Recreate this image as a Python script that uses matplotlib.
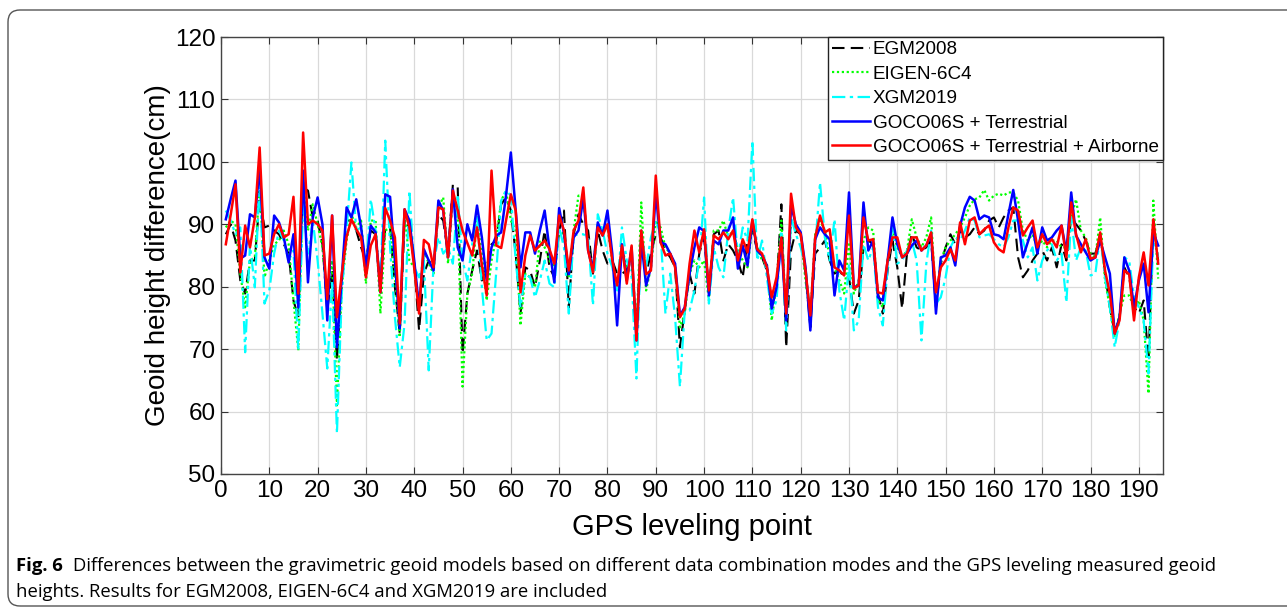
import matplotlib
matplotlib.use("Agg")
import matplotlib.pyplot as plt
from matplotlib.patches import FancyBboxPatch
import numpy as np

# geoid height differences (cm) at the GPS leveling points 1..194
egm2008 = [
    88.4, 90.0, 87.4, 81.0, 78.9, 84.2, 84.2, 94.3, 89.5, 89.8,
    89.0, 88.4, 86.8, 85.3, 77.8, 75.1, 95.9, 95.4, 91.1, 90.6,
    86.8, 76.2, 82.6, 68.2, 81.0, 90.6, 90.6, 89.0, 86.3, 84.2,
    89.0, 88.4, 79.9, 89.5, 89.5, 79.9, 72.5, 90.6, 89.5, 83.7,
    73.0, 82.1, 84.2, 83.1, 91.6, 90.6, 85.3, 96.4, 95.9, 69.3,
    78.9, 82.6, 85.8, 81.0, 83.1, 86.8, 87.4, 93.2, 94.3, 92.2,
    85.3, 75.7, 83.1, 82.6, 79.9, 84.2, 89.0, 83.1, 81.5, 89.0,
    92.2, 76.7, 88.4, 91.6, 90.0, 89.0, 82.1, 89.0, 85.8, 83.7,
    84.2, 82.1, 82.1, 82.6, 85.8, 72.5, 89.0, 82.1, 85.3, 88.4,
    87.9, 85.8, 84.7, 83.1, 70.3, 76.2, 82.1, 78.9, 85.3, 87.9,
    79.4, 88.4, 89.0, 84.2, 86.8, 85.8, 84.2, 81.5, 87.4, 89.0,
    85.8, 84.7, 82.6, 76.7, 79.9, 93.2, 70.3, 85.8, 89.0, 88.4,
    82.1, 73.5, 85.3, 86.3, 87.4, 84.2, 82.1, 82.6, 81.5, 81.5,
    75.7, 77.8, 86.3, 87.4, 86.8, 78.9, 75.7, 82.6, 87.4, 83.1,
    76.5, 85.3, 88.4, 86.3, 85.8, 86.3, 87.4, 76.7, 83.7, 86.3,
    88.4, 86.8, 89.0, 87.9, 88.4, 89.5, 88.4, 89.0, 90.6, 91.1,
    89.5, 91.1, 92.2, 92.7, 84.7, 81.5, 82.6, 84.2, 85.3, 85.8,
    84.2, 86.3, 83.1, 86.8, 84.2, 91.1, 90.0, 89.0, 87.4, 85.3,
    85.3, 88.4, 82.1, 76.7, 72.5, 75.1, 83.1, 81.5, 76.7, 75.7,
    77.8, 68.2, 90.6, 84.2]

eigen6c4 = [
    89.5, 90.6, 90.0, 82.1, 76.7, 84.2, 84.7, 95.9, 81.5, 84.2,
    86.8, 87.4, 89.0, 86.8, 77.8, 69.8, 97.0, 89.0, 93.2, 90.0,
    86.3, 77.8, 84.2, 61.0, 79.9, 87.4, 91.6, 89.5, 90.6, 80.5,
    90.6, 90.6, 75.7, 89.0, 89.5, 81.5, 71.9, 91.6, 84.2, 83.1,
    76.7, 85.8, 83.7, 82.1, 92.7, 94.3, 83.7, 94.8, 91.6, 64.0,
    78.9, 82.1, 90.6, 85.3, 77.8, 84.2, 87.9, 93.8, 95.4, 90.6,
    89.0, 73.8, 82.1, 81.5, 79.9, 87.4, 86.3, 84.2, 83.1, 89.0,
    88.4, 81.5, 89.0, 94.6, 94.3, 86.3, 83.1, 89.5, 89.0, 89.5,
    84.2, 79.4, 86.3, 83.1, 84.2, 72.5, 93.5, 79.4, 83.1, 90.6,
    89.5, 86.3, 85.3, 83.1, 73.5, 75.7, 82.1, 84.2, 83.1, 84.2,
    77.8, 89.0, 89.0, 90.6, 87.9, 89.0, 85.8, 84.2, 83.1, 90.0,
    86.3, 84.2, 83.7, 74.6, 80.5, 90.6, 75.1, 90.6, 89.5, 88.4,
    81.0, 75.1, 88.4, 90.6, 89.0, 84.7, 83.1, 81.0, 78.9, 86.8,
    78.9, 81.0, 87.4, 89.5, 89.0, 77.8, 76.7, 84.2, 89.0, 86.3,
    84.7, 85.8, 90.8, 87.9, 86.3, 87.9, 91.1, 77.3, 84.2, 86.3,
    87.4, 88.4, 89.5, 91.1, 93.0, 94.0, 94.3, 95.5, 93.8, 94.6,
    94.9, 94.6, 95.1, 95.1, 93.8, 89.0, 87.4, 88.4, 86.3, 87.4,
    86.3, 87.4, 87.4, 86.3, 86.3, 91.1, 94.0, 89.0, 87.9, 85.3,
    84.7, 91.1, 81.0, 76.7, 71.9, 75.7, 78.6, 78.6, 76.7, 77.8,
    74.6, 62.9, 93.8, 81.3]

xgm2019 = [
    92.2, 90.6, 88.4, 89.5, 69.5, 86.8, 79.9, 97.0, 77.3, 79.4,
    85.3, 89.0, 87.4, 84.2, 85.8, 69.8, 93.2, 85.3, 90.6, 84.2,
    75.7, 66.9, 81.0, 56.5, 78.9, 89.0, 99.9, 89.0, 89.5, 82.6,
    94.0, 89.0, 79.9, 103.4, 86.3, 75.1, 67.1, 74.1, 95.4, 83.1,
    81.5, 84.2, 66.6, 83.7, 87.9, 85.3, 86.3, 83.7, 94.8, 84.2,
    81.0, 86.8, 91.6, 79.9, 71.4, 72.5, 82.6, 93.8, 95.4, 94.6,
    84.2, 76.7, 82.1, 81.5, 78.3, 81.0, 84.2, 80.5, 79.9, 89.5,
    86.3, 75.7, 88.2, 88.4, 88.4, 87.9, 77.0, 91.6, 89.0, 85.3,
    83.1, 79.4, 89.5, 84.2, 81.5, 65.3, 89.0, 83.1, 87.9, 90.6,
    88.4, 75.7, 82.1, 75.1, 64.0, 76.2, 76.2, 79.4, 84.2, 94.3,
    77.3, 86.3, 83.1, 81.5, 89.0, 94.3, 84.7, 89.5, 87.4, 103.4,
    84.2, 87.4, 81.5, 75.7, 77.8, 89.0, 73.0, 91.1, 88.4, 86.3,
    83.1, 75.7, 86.3, 96.7, 87.9, 84.2, 90.8, 79.4, 74.6, 83.7,
    73.0, 74.6, 86.8, 84.2, 86.3, 76.7, 73.8, 83.1, 90.0, 83.7,
    84.2, 85.8, 87.4, 84.2, 71.4, 83.7, 89.0, 77.3, 78.3, 81.5,
    86.3, 87.9, 87.4, 89.0, 91.1, 90.6, 87.9, 88.2, 88.4, 87.6,
    86.8, 86.3, 87.9, 90.6, 90.6, 87.4, 84.7, 86.3, 81.0, 84.2,
    85.8, 86.8, 84.2, 85.3, 77.5, 91.1, 84.2, 86.3, 85.8, 81.8,
    82.1, 88.2, 81.5, 76.7, 70.3, 74.6, 84.7, 84.2, 78.3, 76.7,
    74.6, 66.1, 87.9, 84.7]

goco_terr = [
    90.8, 94.0, 97.0, 84.5, 85.0, 91.6, 91.1, 99.1, 84.7, 82.9,
    91.4, 90.3, 87.9, 83.9, 88.4, 76.7, 98.6, 80.7, 91.1, 94.3,
    90.0, 74.6, 91.4, 70.3, 81.5, 92.7, 91.1, 94.0, 89.5, 83.1,
    89.8, 88.7, 79.1, 94.8, 94.4, 84.2, 73.3, 92.4, 90.6, 84.2,
    76.7, 86.0, 84.2, 82.6, 93.8, 92.2, 84.7, 95.6, 86.3, 84.2,
    90.0, 87.4, 93.0, 87.9, 81.0, 86.3, 88.2, 88.7, 94.6, 101.5,
    92.2, 83.1, 88.7, 88.7, 85.3, 89.0, 92.2, 86.0, 80.7, 92.6,
    88.5, 82.0, 87.9, 89.0, 94.3, 85.8, 82.9, 90.3, 88.2, 92.2,
    85.3, 73.8, 86.8, 81.0, 86.3, 71.4, 87.4, 80.2, 83.1, 95.1,
    87.1, 86.8, 85.3, 83.7, 75.4, 76.7, 82.1, 86.3, 89.5, 88.9,
    78.6, 87.4, 86.8, 89.0, 89.0, 91.1, 82.9, 86.6, 83.4, 90.6,
    85.8, 85.0, 83.4, 76.5, 79.9, 87.4, 74.6, 93.0, 90.0, 88.7,
    83.1, 73.0, 87.6, 89.5, 88.4, 87.6, 78.6, 84.2, 82.6, 95.1,
    79.9, 80.2, 93.5, 85.8, 87.4, 78.3, 77.8, 84.2, 91.1, 86.8,
    84.7, 85.3, 86.6, 87.4, 85.8, 86.6, 88.4, 75.7, 84.7, 85.0,
    86.3, 83.4, 89.8, 92.7, 94.4, 93.8, 90.8, 91.4, 91.1, 88.4,
    88.2, 87.6, 91.6, 95.5, 90.6, 84.7, 87.1, 89.5, 85.3, 89.5,
    87.4, 87.9, 89.0, 89.8, 85.5, 95.1, 88.2, 86.8, 85.5, 84.2,
    84.7, 87.4, 84.7, 82.1, 72.5, 75.1, 84.7, 82.6, 76.7, 81.0,
    83.7, 75.9, 88.7, 86.6]

goco_terr_air = [
    86.8, 91.5, 96.4, 82.3, 89.8, 86.3, 91.0, 102.3, 85.0, 85.3,
    88.4, 90.0, 87.9, 88.4, 94.4, 78.9, 104.7, 90.0, 90.6, 90.0,
    89.0, 78.0, 91.4, 75.1, 82.0, 88.0, 90.8, 89.2, 87.9, 81.5,
    86.6, 88.4, 79.1, 92.6, 90.6, 87.9, 74.1, 92.4, 89.5, 83.0,
    75.7, 87.5, 86.8, 83.1, 92.7, 92.4, 84.7, 95.4, 92.2, 89.0,
    87.0, 85.0, 89.5, 83.5, 78.6, 98.6, 86.6, 86.2, 90.6, 94.8,
    92.2, 79.1, 85.0, 88.2, 85.8, 86.6, 87.4, 86.0, 83.7, 91.4,
    89.0, 82.6, 89.0, 90.6, 95.9, 85.8, 82.3, 89.5, 88.2, 90.0,
    84.2, 80.2, 86.6, 80.5, 86.6, 71.4, 89.0, 82.0, 82.6, 97.8,
    87.1, 85.0, 85.3, 83.1, 75.1, 76.5, 83.7, 89.0, 85.5, 89.2,
    79.4, 88.2, 87.6, 88.7, 87.6, 89.0, 84.2, 87.6, 85.5, 90.8,
    86.0, 85.3, 83.1, 78.3, 81.5, 87.9, 75.7, 94.9, 89.5, 88.4,
    82.6, 75.4, 87.9, 91.4, 88.7, 89.2, 83.1, 82.6, 81.8, 91.4,
    79.7, 80.2, 91.1, 87.4, 87.6, 79.1, 78.9, 84.2, 87.9, 87.9,
    84.7, 85.3, 87.9, 87.9, 85.8, 86.6, 88.7, 79.1, 83.1, 84.2,
    86.0, 84.2, 90.3, 86.8, 90.6, 91.1, 88.4, 89.2, 89.8, 87.1,
    86.0, 85.5, 89.5, 92.7, 92.2, 88.2, 89.5, 90.6, 86.3, 88.4,
    86.8, 87.6, 86.3, 89.8, 84.7, 93.5, 88.4, 85.5, 87.6, 84.5,
    84.7, 88.7, 82.6, 78.9, 72.5, 74.6, 82.6, 82.0, 74.6, 81.5,
    85.5, 80.2, 90.8, 83.7]

labels = ["EGM2008", "EIGEN-6C4", "XGM2019",
          "GOCO06S + Terrestrial", "GOCO06S + Terrestrial + Airborne"]

points = np.arange(1, len(goco_terr_air) + 1)

plt.rcParams["font.family"] = ["Liberation Sans", "DejaVu Sans"]

W, H = 1287, 611
fig = plt.figure(figsize=(W / 100, H / 100), dpi=100)
ax = fig.add_axes([221 / W, 1 - 474 / H, (1163 - 221) / W, (474 - 37) / H])

ax.plot(points, egm2008, color="black", lw=1.5, ls=(0, (6, 3)), label=labels[0])
ax.plot(points, eigen6c4, color="#00ff00", lw=1.6, ls=(0, (1, 1.2)), label=labels[1])
ax.plot(points, xgm2019, color="#00ffff", lw=1.6, ls=(0, (6, 2, 1.5, 2)), label=labels[2])
ax.plot(points, goco_terr, color="#0000ff", lw=1.8, label=labels[3])
ax.plot(points, goco_terr_air, color="#ff0000", lw=1.8, label=labels[4])

ax.set_xlim(0, 195)
ax.set_ylim(50, 120)
ax.set_xticks(np.arange(0, 191, 10))
ax.set_yticks(np.arange(50, 121, 10))
ax.tick_params(direction="in", top=True, right=True, labelsize=17.5,
               length=5, width=0.8, color="#333333", pad=4)
ax.grid(True, color="#d9d9d9", lw=0.9)
for s in ax.spines.values():
    s.set_color("#444444")
    s.set_linewidth(1.0)

ax.set_xlabel("GPS leveling point", fontsize=21, labelpad=8)
ax.set_ylabel("Geoid height difference(cm)", fontsize=20, labelpad=3)

leg = ax.legend(loc="upper right", fontsize=13.6, borderaxespad=0,
                fancybox=False, framealpha=1, edgecolor="#222222",
                handlelength=2.0, handletextpad=0.15, labelspacing=0.38,
                borderpad=0.22)
leg.get_frame().set_linewidth(1.0)

# caption frame and text
box = FancyBboxPatch((8, 5), 1320, 596, boxstyle="round,pad=0,rounding_size=12",
                     transform=None, fc="none", ec="#555555", lw=1.0)
fig.patches.append(box)

fig.text(16 / W, 1 - 566 / H, "Fig. 6", family="Open Sans", weight="bold",
         fontsize=13.3, va="center", ha="left")
fig.text(73 / W, 1 - 566 / H,
         "Differences between the gravimetric geoid models based on different data "
         "combination modes and the GPS leveling measured geoid",
         family="Open Sans", fontsize=13.3, va="center", ha="left")
fig.text(16 / W, 1 - 592 / H,
         "heights. Results for EGM2008, EIGEN-6C4 and XGM2019 are included",
         family="Open Sans", fontsize=13.3, va="center", ha="left")

fig.savefig("out.png", dpi=100)
